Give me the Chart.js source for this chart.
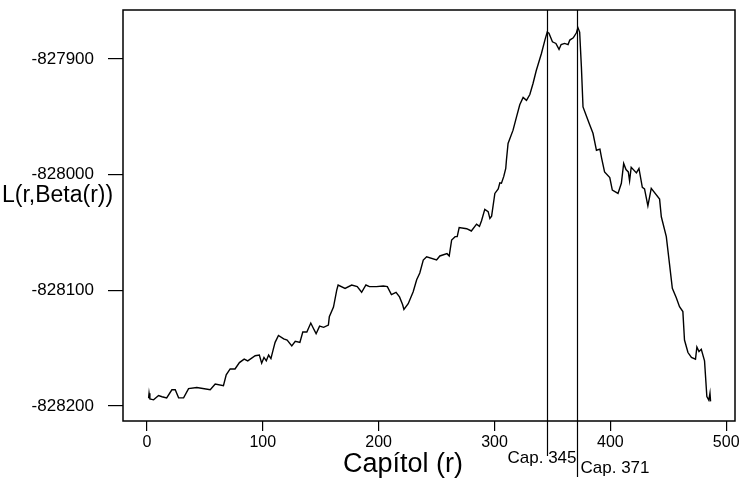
<!DOCTYPE html>
<html>
<head>
<meta charset="utf-8">
<script src="https://cdn.jsdelivr.net/npm/chart.js@4.4.1/dist/chart.umd.min.js"></script>
<style>
  html, body { margin: 0; padding: 0; background: #fff; }
  .chart-container { position: relative; width: 741px; height: 481px; }
</style>
</head>
<body>
<div class="chart-container">
  <canvas id="chart"></canvas>
</div>
<script>
// chapter number (r)
const chapters = [
  1.4, 1.8, 2.5, 5.7, 10, 13, 17, 21.5, 24.4, 27.3, 31.6, 35.9, 43, 54.6, 58.9, 66,
  68.4, 71.8, 76, 79.8, 83.9, 87, 93.4, 97, 99, 101, 103, 105, 107, 109, 110.6, 113.5,
  118, 121, 125, 128, 132, 134.5, 138, 141.4, 143.7, 146, 149, 152.5, 156.6, 157.4, 161, 163.8,
  165, 171, 176.7, 181.5, 185.3, 189, 192, 198, 204, 207.5, 211, 215, 218, 220.7,
  221.8, 225.5, 229.8, 232.8, 235.5, 238.5, 241.4, 250, 252.8, 259, 260.9, 263, 266, 267.8,
  269.5, 276, 280, 284.5, 287, 288.8, 291.6, 294.5, 296, 297.5, 300.3, 303.2, 304.6, 306,
  308, 309.7, 310.3, 311.7, 316, 319, 321.8, 324.7, 327.6, 330.5, 333.3, 336, 337.5, 340.5,
  343.5, 345.5, 347, 350, 353, 355.7, 357.5, 360.5, 363.5, 365, 368, 370.7, 372, 373.5,
  375, 376.4, 379, 382, 385, 388, 391, 392.5, 395, 399.5, 401.7, 406.6, 409.5, 411.5,
  413.5, 415.5, 416.6, 418, 422.5, 424.7, 427.6, 429.5, 432.4, 435.3, 442.5, 444, 448.3, 451,
  453.5, 457, 459.7, 462.6, 464, 467, 470, 473.5, 474.7, 476.5, 478.5, 481.3, 483.3, 485,
  486, 486.5
];

// L(r, Beta(r))
const logLik = [
  -828193.3, -828189, -828194, -828194.7, -828191, -828192, -828193, -828186, -828186, -828193, -828193, -828185, -828184, -828186, -828181, -828182.5,
  -828173, -828168, -828168, -828162.5, -828159.5, -828161, -828156.6, -828156, -828163, -828158, -828161, -828156, -828159, -828151, -828145, -828139,
  -828142, -828143, -828148, -828144, -828145, -828136, -828136, -828128.3, -828133, -828137.5, -828131, -828132, -828130, -828122.9, -828114.5, -828099.8,
  -828095.4, -828098.3, -828095.4, -828096.8, -828101.7, -828095.4, -828096.8, -828096.8, -828096.3, -828096.8, -828103.7, -828101.7, -828105.7, -828112.5,
  -828116.5, -828111.6, -828101.2, -828090.9, -828085, -828073.8, -828071, -828073.8, -828070.3, -828068.3, -828070.3, -828056.5, -828053.6, -828053.6,
  -828045.7, -828046.7, -828048.7, -828042.8, -828044.7, -828039.8, -828030, -828032, -828037.9, -828035.9, -828016.2, -828012.3, -828007, -828007.4,
  -828001.5, -827994.6, -827987.3, -827973, -827961.5, -827950, -827939.6, -827933.2, -827935.7, -827930.7, -827920.9, -827910.1, -827905.2, -827895.2,
  -827883.6, -827876.7, -827877.7, -827885.1, -827886.5, -827891.7, -827887.5, -827886.5, -827887.5, -827883.6, -827881.6, -827877.3, -827872.8, -827876.7,
  -827906.8, -827941.4, -827948.4, -827956.3, -827964.2, -827978.9, -827977.9, -827985.8, -827997.6, -828002.5, -828013.3, -828016.2, -828007.4, -827990.3,
  -827995.6, -827997.6, -828005.4, -827993.6, -827998.5, -827994.6, -828010.9, -828012.3, -828027, -828011.8, -828021.1, -828036.4, -828053.6, -828076.7,
  -828098.3, -828106.6, -828114.2, -828118.4, -828143, -828153.8, -828158, -828159.5, -828149, -828153, -828151, -828161, -828191.8, -828195,
  -828189, -828196
];

const xTicks = [0, 100, 200, 300, 400, 500];
const yTicks = [-828200, -828100, -828000, -827900];

// marked chapters
const capChapters = [345, 371];
const capLabels = ['Cap. 345', 'Cap. 371'];

const xTitle = 'Capítol (r)';
const yTitle = 'L(r,Beta(r))';

const FONT = '"Liberation Sans", Arial, sans-serif';

// frame, marker lines and the titles drawn around the plot
const overlay = {
  id: 'overlay',
  afterDraw(chart) {
    const { ctx, chartArea: a, scales: { x } } = chart;
    ctx.save();
    ctx.strokeStyle = '#000';
    ctx.lineWidth = 1.5;
    ctx.strokeRect(a.left, a.top, a.right - a.left, a.bottom - a.top);

    ctx.lineWidth = 1.2;
    ctx.fillStyle = '#000';
    ctx.font = '17px ' + FONT;
    ctx.textBaseline = 'alphabetic';
    const px0 = Math.round(x.getPixelForValue(capChapters[0])) + 0.5;
    const px1 = Math.round(x.getPixelForValue(capChapters[1])) + 0.5;
    ctx.beginPath();
    ctx.moveTo(px0, a.top);
    ctx.lineTo(px0, 456);
    ctx.moveTo(px1, a.top);
    ctx.lineTo(px1, 477);
    ctx.stroke();
    ctx.textAlign = 'right';
    ctx.fillText(capLabels[0], px1 - 1, 463);
    ctx.textAlign = 'left';
    ctx.fillText(capLabels[1], px1 + 3, 473);

    ctx.textAlign = 'center';
    ctx.textBaseline = 'middle';
    ctx.font = '27px ' + FONT;
    ctx.fillText(xTitle, 403, 465);

    ctx.textAlign = 'left';
    ctx.font = '23px ' + FONT;
    ctx.fillText(yTitle, 2, 196);
    ctx.restore();
  }
};

const canvas = document.getElementById('chart');
const chart = new Chart(canvas, {
  type: 'scatter',
  data: {
    datasets: [{
      data: chapters.map((c, i) => ({ x: c, y: logLik[i] })),
      showLine: true,
      borderColor: '#000',
      borderWidth: 1.4,
      pointRadius: 0,
      tension: 0
    }]
  },
  options: {
    responsive: true,
    maintainAspectRatio: false,
    animation: false,
    layout: { padding: { top: 10, right: 6, left: 0, bottom: 0 } },
    plugins: {
      legend: { display: false },
      tooltip: { enabled: false }
    },
    scales: {
      x: {
        type: 'linear',
        min: -20.7,
        max: 507.6,
        afterBuildTicks: (scale) => { scale.ticks = xTicks.map(v => ({ value: v })); },
        afterFit: (scale) => { scale.height = 60; scale.paddingLeft = 0; scale.paddingRight = 0; },
        grid: { drawOnChartArea: false, drawTicks: true, tickLength: 10, color: '#000', lineWidth: 1.2 },
        border: { display: false },
        ticks: { color: '#000', font: { family: FONT, size: 16 }, padding: 2, maxRotation: 0, callback: v => String(v) }
      },
      y: {
        type: 'linear',
        min: -828213,
        max: -827857.6,
        afterBuildTicks: (scale) => { scale.ticks = yTicks.map(v => ({ value: v })); },
        afterFit: (scale) => { scale.width = 123; scale.paddingTop = 0; scale.paddingBottom = 0; },
        grid: { drawOnChartArea: false, drawTicks: true, tickLength: 15, color: '#000', lineWidth: 1.2 },
        border: { display: false },
        ticks: { color: '#000', font: { family: FONT, size: 17 }, padding: 14, callback: v => String(v) }
      }
    }
  },
  plugins: [overlay]
});
</script>
</body>
</html>
